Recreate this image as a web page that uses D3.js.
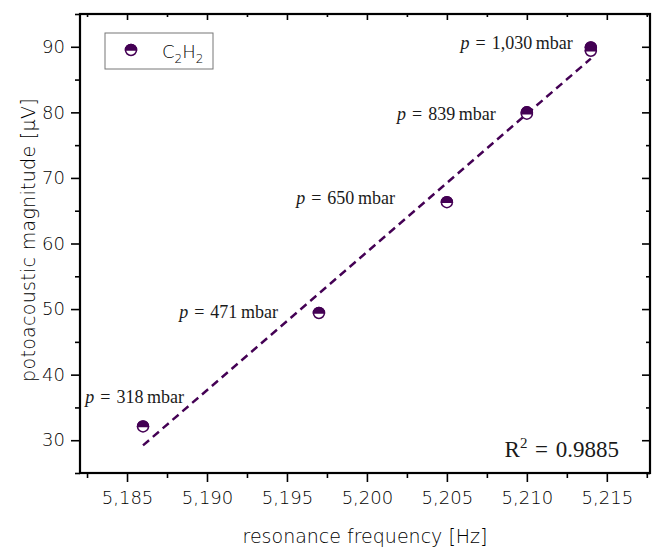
<!DOCTYPE html>
<html>
<head>
<meta charset="utf-8">
<script src="https://cdn.jsdelivr.net/npm/d3@7"></script>
<style>
  body { margin: 0; background: #fff; }
  svg { display: block; }
  .tick text, .title, .legend text { font-family: "DejaVu Sans", sans-serif; font-weight: 200; fill: #000; }
  .anno { font-family: "Liberation Serif", "DejaVu Serif", serif; fill: #1a1a1a; }
</style>
</head>
<body>
<div id="chart"></div>
<script>
// measured points (resonance frequency in Hz, magnitude in uV)
var freq      = [5186, 5197, 5205, 5210, 5210, 5214, 5214]
var magnitude = [32.1, 49.4, 66.3, 80.0, 79.8, 89.9, 89.4]

// pressure label for each measurement set
var pressFreq   = [5186, 5197, 5205, 5210, 5214]
var pressMag    = [32.1, 49.4, 66.3, 80.0, 89.9]
var pressLabels = ["318", "471", "650", "839", "1,030"]

// linear fit end points
var fitFreq = [5186, 5214]
var fitMag  = [29.2, 88.2]

var xTicks = [5185, 5190, 5195, 5200, 5205, 5210, 5215]
var yTicks = [30, 40, 50, 60, 70, 80, 90]
var rSquared = "0.9885"

function drawChart() {
  var W = 653, H = 549
  var pl = 80, pr = 650, pt = 14, pb = 473
  var purple = "#440154"

  var svg = d3.select("#chart").append("svg")
    .attr("width", W)
    .attr("height", H)

  var x = d3.scaleLinear().domain([5182.06, 5217.7]).range([pl, pr])
  var y = d3.scaleLinear().domain([25, 95]).range([pb, pt])

  var fmt = d3.format(",")
  var xMinor = d3.range(5182.5, 5218, 5).filter(v => x(v) > pl && x(v) < pr)
  var yMinor = d3.range(25, 96, 10)

  // bottom axis
  var gx = svg.append("g").attr("transform", "translate(0," + pb + ")")
  gx.call(d3.axisBottom(x).tickValues(xTicks).tickFormat(fmt).tickSize(9).tickPadding(6))
  gx.append("g").call(d3.axisBottom(x).tickValues(xMinor).tickFormat("").tickSize(5))
  gx.selectAll("text").attr("font-size", 18).attr("dy", "0.9em")

  // left axis
  var gy = svg.append("g").attr("transform", "translate(" + pl + ",0)")
  gy.call(d3.axisLeft(y).tickValues(yTicks).tickSize(9).tickPadding(6))
  gy.append("g").call(d3.axisLeft(y).tickValues(yMinor).tickFormat("").tickSize(5))
  gy.selectAll("text").attr("font-size", 18)

  // mirrored top / right axes with inward ticks
  var gt = svg.append("g").attr("transform", "translate(0," + pt + ")")
  gt.call(d3.axisTop(x).tickValues(xTicks).tickFormat("").tickSize(-6))
  gt.append("g").call(d3.axisTop(x).tickValues(xMinor).tickFormat("").tickSize(-3))
  var gr = svg.append("g").attr("transform", "translate(" + pr + ",0)")
  gr.call(d3.axisRight(y).tickValues(yTicks).tickFormat("").tickSize(-8))
  gr.append("g").call(d3.axisRight(y).tickValues(yMinor).tickFormat("").tickSize(-4))

  svg.selectAll(".domain").remove()
  svg.selectAll(".tick line").attr("stroke", "#000").attr("stroke-width", 1.6)

  svg.append("rect")
    .attr("x", pl).attr("y", pt)
    .attr("width", pr - pl).attr("height", pb - pt)
    .attr("fill", "none").attr("stroke", "#000").attr("stroke-width", 2.2)

  // axis titles
  svg.append("text").attr("class", "title")
    .attr("x", (pl + pr) / 2).attr("y", 543)
    .attr("text-anchor", "middle").attr("font-size", 19)
    .text("resonance frequency [Hz]")

  svg.append("text").attr("class", "title")
    .attr("transform", "translate(35,240) rotate(-90)")
    .attr("text-anchor", "middle").attr("font-size", 19)
    .attr("letter-spacing", 0.3)
    .text("potoacoustic magnitude [\u03BCV]")

  // fit line
  var line = d3.line().x(d => x(d[0])).y(d => y(d[1]))
  svg.append("path")
    .datum(d3.zip(fitFreq, fitMag))
    .attr("d", line)
    .attr("fill", "none")
    .attr("stroke", purple)
    .attr("stroke-width", 2.4)
    .attr("stroke-dasharray", "8,5")

  // half filled markers
  function halfMarker(g, r) {
    g.append("circle").attr("r", r).attr("fill", "#fff").attr("stroke", purple).attr("stroke-width", 1.5)
    g.append("path")
      .attr("d", "M" + (-r) + ",0 A" + r + "," + r + " 0 0 1 " + r + ",0 Z")
      .attr("fill", purple).attr("stroke", purple).attr("stroke-width", 1.5)
  }

  d3.zip(freq, magnitude).forEach(d => {
    var g = svg.append("g").attr("transform", "translate(" + x(d[0]) + "," + y(d[1]) + ")")
    halfMarker(g, 5.5)
  })

  // pressure annotations
  var labelOffsets = [[41, -23], [-41, 5], [-52, 2], [-31, 8], [-18, 2]]
  pressLabels.forEach((lab, i) => {
    var t = svg.append("text").attr("class", "anno")
      .attr("x", x(pressFreq[i]) + labelOffsets[i][0])
      .attr("y", y(pressMag[i]) + labelOffsets[i][1])
      .attr("text-anchor", "end")
      .attr("font-size", 18)
    t.append("tspan").attr("font-style", "italic").text("p")
    t.append("tspan").text("\u2004=\u2004" + lab + "\u2009mbar")
  })

  // R squared
  var rt = svg.append("text").attr("class", "anno")
    .attr("x", 619).attr("y", 457)
    .attr("text-anchor", "end")
    .attr("font-size", 23)
  rt.append("tspan").text("R")
  rt.append("tspan").attr("font-size", 15).attr("dy", -9).text("2")
  rt.append("tspan").attr("dy", 9).text("\u2004=\u2004" + rSquared)

  // legend
  var lg = svg.append("g").attr("class", "legend")
  lg.append("rect")
    .attr("x", 105).attr("y", 33).attr("width", 108).attr("height", 36)
    .attr("fill", "#fff").attr("stroke", "#777").attr("stroke-width", 1)
  halfMarker(lg.append("g").attr("transform", "translate(131,50)"), 5.5)
  var lt = lg.append("text").attr("x", 162).attr("y", 58).attr("font-size", 18)
  lt.append("tspan").text("C")
  lt.append("tspan").attr("font-size", 12).attr("dy", 5).text("2")
  lt.append("tspan").attr("dy", -5).text("H")
  lt.append("tspan").attr("font-size", 12).attr("dy", 5).text("2")
}

drawChart()
</script>
</body>
</html>
